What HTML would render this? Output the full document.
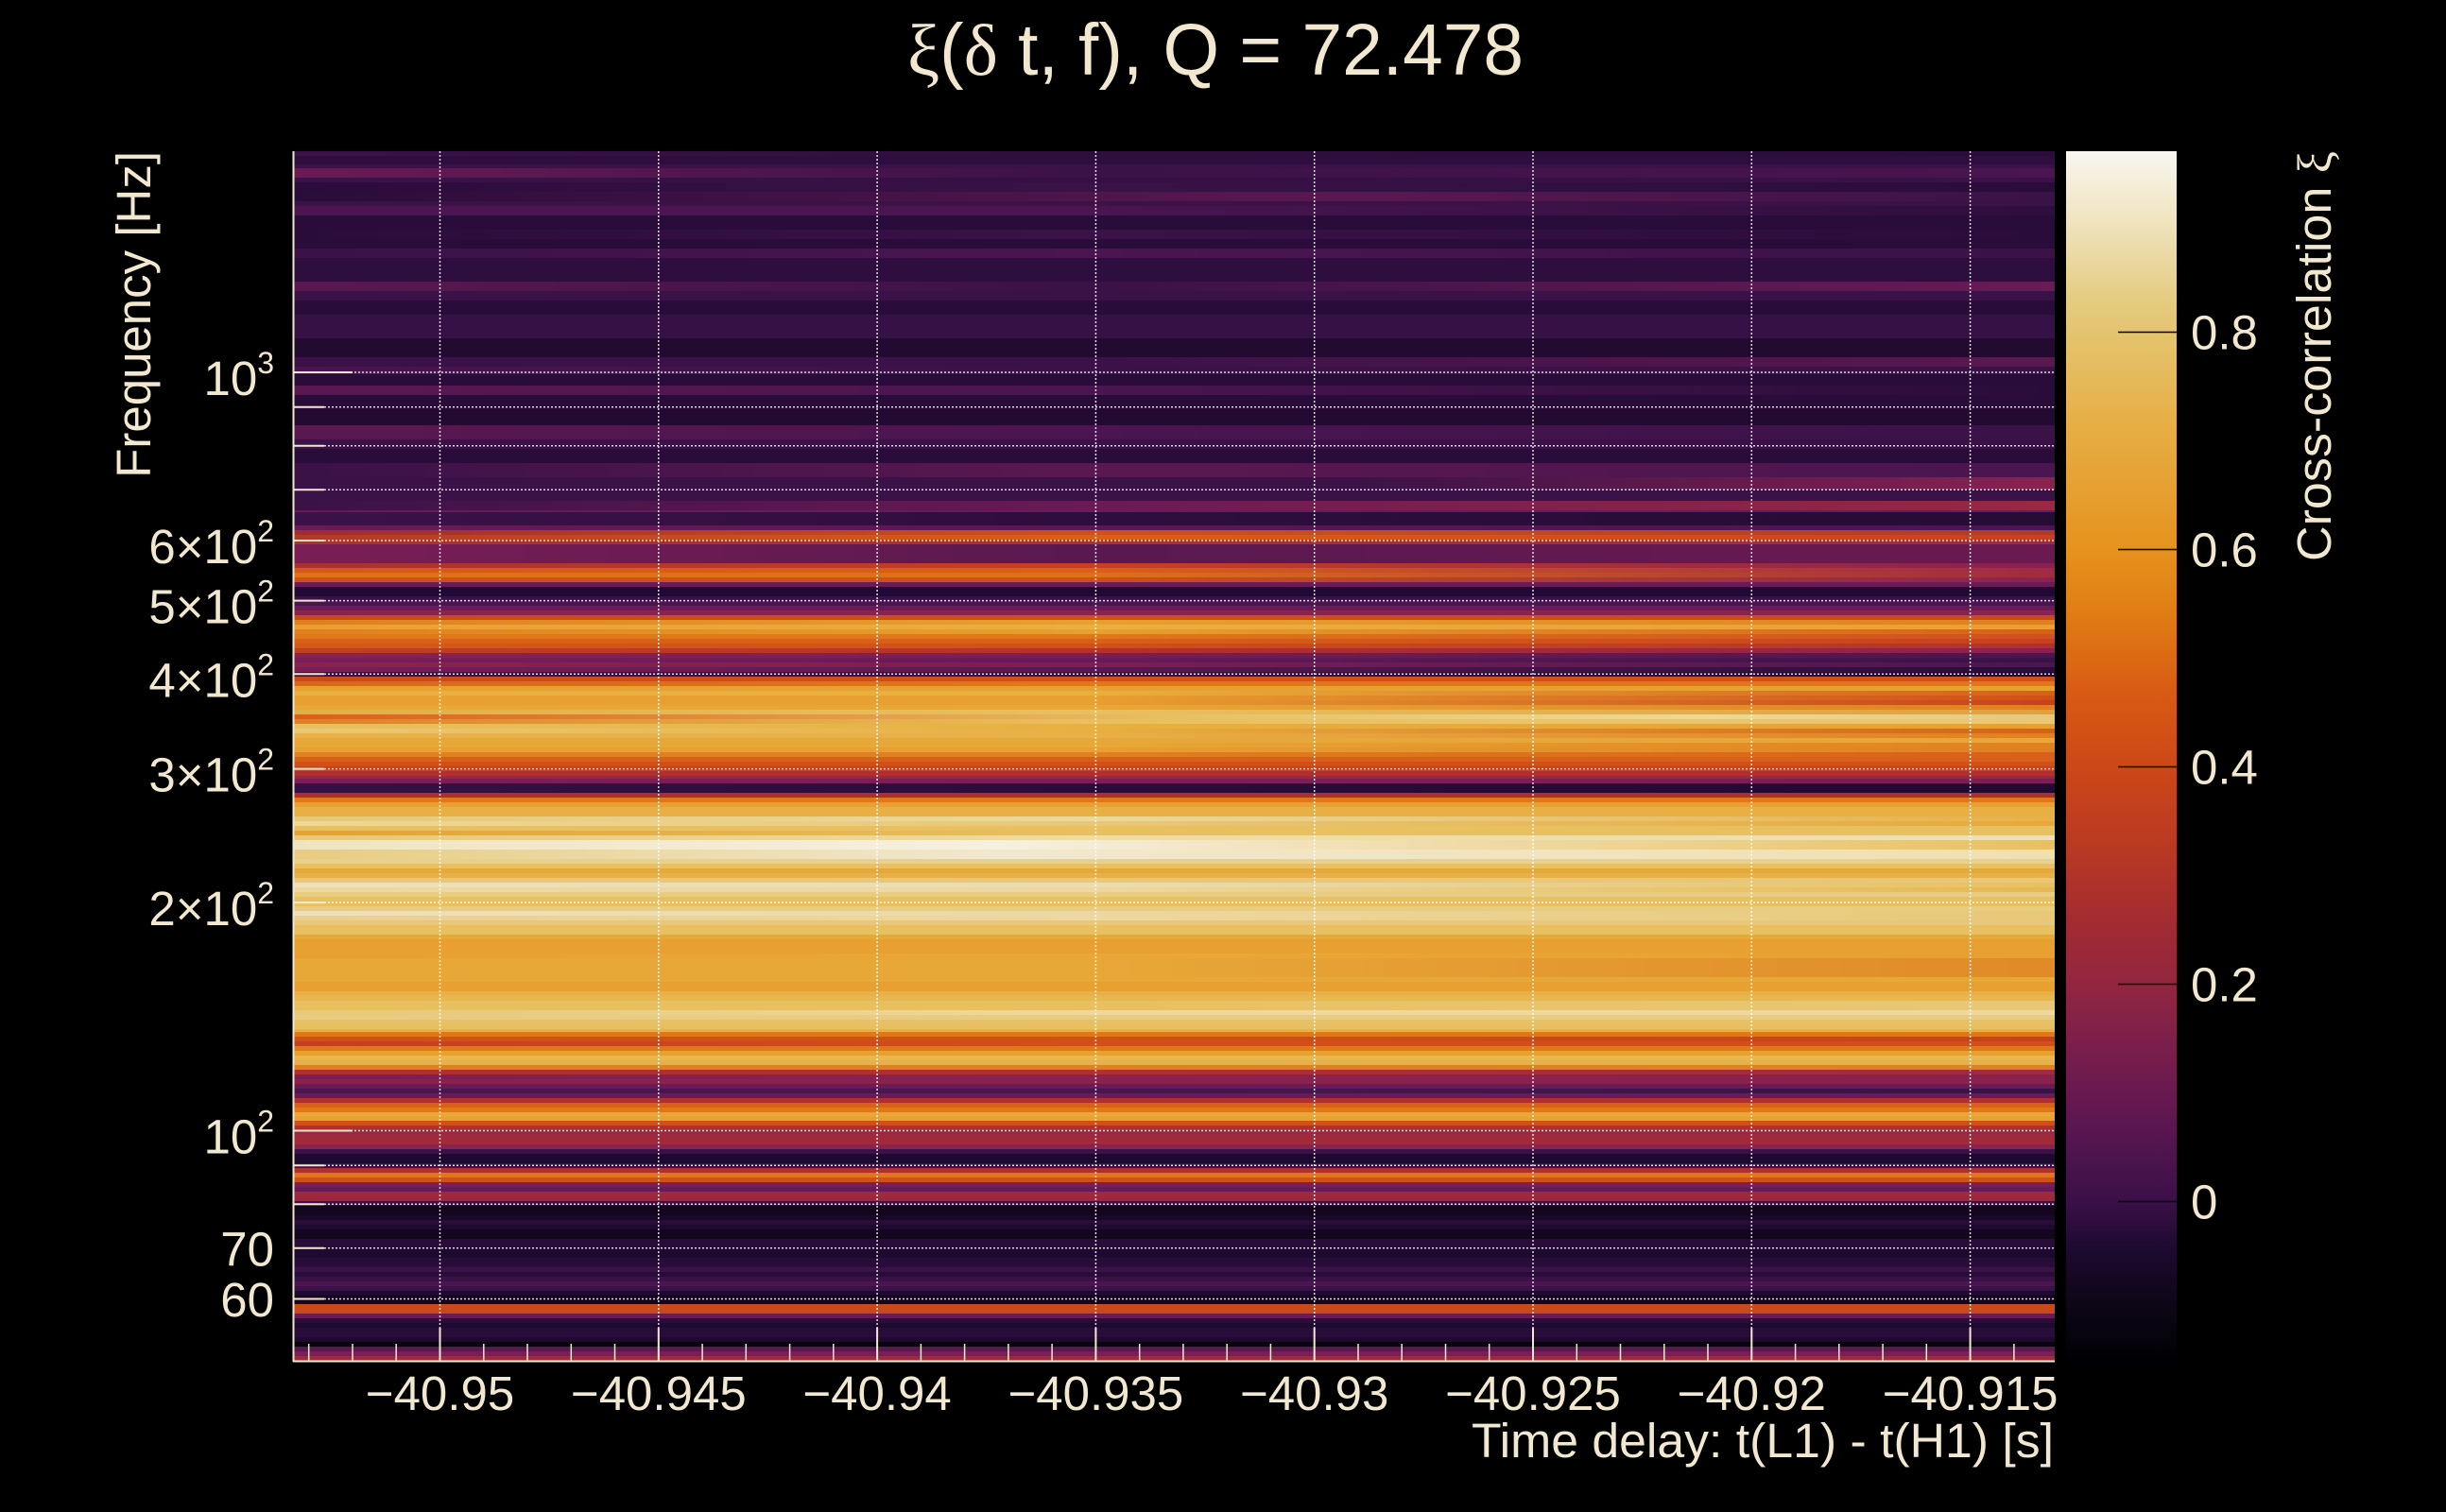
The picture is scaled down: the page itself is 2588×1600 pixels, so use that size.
<!DOCTYPE html>
<html><head><meta charset="utf-8"><style>
html,body{margin:0;padding:0;background:#000;}
body{width:2588px;height:1600px;position:relative;overflow:hidden;}
#hm{position:absolute;left:311px;top:160px;width:1863px;height:1280px;background:#2a0c3a;overflow:hidden;}
#hm div{position:absolute;left:0;width:1863px;}
svg{position:absolute;left:0;top:0;}
text{font-family:"Liberation Sans",sans-serif;fill:#f2e8cf;}
.g{font-family:"Liberation Serif",serif;}
</style></head><body>
<div id="hm">
<div style="top:0;height:5px;background:linear-gradient(90deg,#3a1248,#2e0e3e 45%,#2a0c3a)"></div>
<div style="top:5px;height:9px;background:#2e0e3e"></div>
<div style="top:14px;height:4px;background:#3a1248"></div>
<div style="top:18px;height:10px;background:linear-gradient(90deg,#6a1a55,#3a1248 45%,#4a1550)"></div>
<div style="top:28px;height:5px;background:linear-gradient(90deg,#3a1248,#341044 45%,#3a1248)"></div>
<div style="top:33px;height:10px;background:linear-gradient(90deg,#2a0c3a,#3a1248 45%,#2a0c3a)"></div>
<div style="top:43px;height:10px;background:linear-gradient(90deg,#2a0c3a,#5a1850 60%,#3a1248)"></div>
<div style="top:53px;height:5px;background:#3a1248"></div>
<div style="top:58px;height:10px;background:linear-gradient(90deg,#4a1550,#4a1550 45%,#2e0e3e)"></div>
<div style="top:68px;height:15px;background:#2a0c3a"></div>
<div style="top:83px;height:10px;background:linear-gradient(90deg,#2a0c3a,#3a1248 45%,#2a0c3a)"></div>
<div style="top:93px;height:10px;background:#2a0c3a"></div>
<div style="top:103px;height:10px;background:linear-gradient(90deg,#3a1248,#4a1550 45%,#3a1248)"></div>
<div style="top:113px;height:25px;background:#2e0e3e"></div>
<div style="top:138px;height:10px;background:linear-gradient(90deg,#5a1850,#3a1248 45%,#6a1a55)"></div>
<div style="top:148px;height:10px;background:#3a1248"></div>
<div style="top:158px;height:15px;background:#2a0c3a"></div>
<div style="top:173px;height:25px;background:#361146"></div>
<div style="top:198px;height:20px;background:#220a30"></div>
<div style="top:218px;height:10px;background:linear-gradient(90deg,#3a1248,#3a1248 45%,#5a1850)"></div>
<div style="top:228px;height:8px;background:linear-gradient(90deg,#4a1550,#3a1248 45%,#3a1248)"></div>
<div style="top:236px;height:12px;background:#2a0c3a"></div>
<div style="top:248px;height:10px;background:linear-gradient(90deg,#5a1850,#4a1550 45%,#2a0c3a)"></div>
<div style="top:258px;height:15px;background:#2a0c3a"></div>
<div style="top:273px;height:17px;background:#220a30"></div>
<div style="top:290px;height:15px;background:linear-gradient(90deg,#5a1850,#4a1550 45%,#3a1248)"></div>
<div style="top:305px;height:10px;background:#3a1248"></div>
<div style="top:315px;height:15px;background:#2a0c3a"></div>
<div style="top:330px;height:15px;background:linear-gradient(90deg,#3a1248,#5a1850 45%,#4a1550)"></div>
<div style="top:345px;height:13px;background:linear-gradient(90deg,#3a1248,#3a1248 60%,#8a2250)"></div>
<div style="top:358px;height:12px;background:#3a1248"></div>
<div style="top:370px;height:10px;background:linear-gradient(90deg,#3a1248,#6a1a55 45%,#9a2840)"></div>
<div style="top:380px;height:2px;background:#6a1a5a"></div>
<div style="top:382px;height:14px;background:linear-gradient(90deg,#3a1248,#2e0e3e 45%,#250c35)"></div>
<div style="top:396px;height:5px;background:linear-gradient(90deg,#6a1a55,#5a1850 45%,#4a1550)"></div>
<div style="top:401px;height:5px;background:linear-gradient(90deg,#a02a30,#d0501a 45%,#b03a2a)"></div>
<div style="top:406px;height:5px;background:linear-gradient(90deg,#b03a28,#d86018 45%,#c84020)"></div>
<div style="top:411px;height:5px;background:linear-gradient(90deg,#b0302a,#b03028 45%,#a02a40)"></div>
<div style="top:416px;height:20px;background:linear-gradient(90deg,#7a1e55,#5a1850 45%,#6a1a50)"></div>
<div style="top:436px;height:5px;background:linear-gradient(90deg,#a83030,#c84020 45%,#8a2050)"></div>
<div style="top:441px;height:5px;background:linear-gradient(90deg,#d55818,#d86018 45%,#a02a45)"></div>
<div style="top:446px;height:5px;background:linear-gradient(90deg,#e07018,#e07018 45%,#a02a40)"></div>
<div style="top:451px;height:5px;background:linear-gradient(90deg,#d05018,#d05018 45%,#8a2250)"></div>
<div style="top:456px;height:5px;background:#6a1a55"></div>
<div style="top:461px;height:10px;background:#200a35"></div>
<div style="top:471px;height:5px;background:#3a1248"></div>
<div style="top:476px;height:5px;background:#4a1550"></div>
<div style="top:481px;height:5px;background:#6a1a55"></div>
<div style="top:486px;height:5px;background:#8a2250"></div>
<div style="top:491px;height:5px;background:linear-gradient(90deg,#c84a1a,#d05018 45%,#c84a1a)"></div>
<div style="top:496px;height:5px;background:linear-gradient(90deg,#e08020,#e8a030 45%,#e08020)"></div>
<div style="top:501px;height:5px;background:linear-gradient(90deg,#e8a030,#e8b040 45%,#e8a030)"></div>
<div style="top:506px;height:5px;background:linear-gradient(90deg,#e08020,#e8a030 45%,#d86018)"></div>
<div style="top:511px;height:5px;background:linear-gradient(90deg,#e07818,#e07818 45%,#d05020)"></div>
<div style="top:516px;height:5px;background:linear-gradient(90deg,#d86018,#d86018 45%,#c84020)"></div>
<div style="top:521px;height:5px;background:linear-gradient(90deg,#d05a18,#d05018 45%,#b03030)"></div>
<div style="top:526px;height:5px;background:linear-gradient(90deg,#c04020,#b83028 45%,#8a2050)"></div>
<div style="top:531px;height:5px;background:linear-gradient(90deg,#8a2250,#7a1e55 45%,#4a1550)"></div>
<div style="top:536px;height:5px;background:linear-gradient(90deg,#7a1e55,#6a1a55 45%,#3a1248)"></div>
<div style="top:541px;height:5px;background:linear-gradient(90deg,#8a2250,#7a1e55 45%,#4a1550)"></div>
<div style="top:546px;height:5px;background:linear-gradient(90deg,#7a1e55,#5a1850 45%,#2a0c3a)"></div>
<div style="top:551px;height:5px;background:linear-gradient(90deg,#3a1248,#3a1248 45%,#200a35)"></div>
<div style="top:556px;height:5px;background:linear-gradient(90deg,#c84a1a,#d05018 45%,#d05018)"></div>
<div style="top:561px;height:5px;background:linear-gradient(90deg,#d86818,#e07818 45%,#e07818)"></div>
<div style="top:566px;height:5px;background:#e8a030"></div>
<div style="top:571px;height:5px;background:linear-gradient(90deg,#e8b040,#e8b040 45%,#d86018)"></div>
<div style="top:576px;height:5px;background:linear-gradient(90deg,#e8a030,#e8a030 45%,#d05018)"></div>
<div style="top:581px;height:5px;background:linear-gradient(90deg,#e8a030,#e8a030 45%,#c84020)"></div>
<div style="top:586px;height:5px;background:linear-gradient(90deg,#e8a838,#e8a838 45%,#e08020)"></div>
<div style="top:591px;height:5px;background:linear-gradient(90deg,#e0b048,#e8c060 45%,#e0a040)"></div>
<div style="top:596px;height:5px;background:linear-gradient(90deg,#d86018,#e8c060 50%,#f0d890 80%,#e8c878)"></div>
<div style="top:601px;height:5px;background:linear-gradient(90deg,#e08020,#e8c060 45%,#e8c878)"></div>
<div style="top:606px;height:5px;background:linear-gradient(90deg,#e8c060,#e8b040 45%,#e8a030)"></div>
<div style="top:611px;height:5px;background:linear-gradient(90deg,#e8c878,#e8b040 45%,#d86018)"></div>
<div style="top:616px;height:5px;background:linear-gradient(90deg,#e8b048,#e8b048 45%,#e08020)"></div>
<div style="top:621px;height:5px;background:#e8a838"></div>
<div style="top:626px;height:5px;background:linear-gradient(90deg,#e8a838,#e8a838 45%,#e08020)"></div>
<div style="top:631px;height:5px;background:linear-gradient(90deg,#e8a030,#e8a030 45%,#e08020)"></div>
<div style="top:636px;height:5px;background:linear-gradient(90deg,#e08020,#e08020 45%,#d86018)"></div>
<div style="top:641px;height:5px;background:#d86018"></div>
<div style="top:646px;height:5px;background:#d05018"></div>
<div style="top:651px;height:5px;background:#c84020"></div>
<div style="top:656px;height:5px;background:#b03030"></div>
<div style="top:661px;height:3px;background:#9a2840"></div>
<div style="top:664px;height:5px;background:#7a1e55"></div>
<div style="top:669px;height:10px;background:linear-gradient(90deg,#361044,#2a0c3a 45%,#220a30)"></div>
<div style="top:679px;height:5px;background:#a83030"></div>
<div style="top:684px;height:5px;background:#e07818"></div>
<div style="top:689px;height:5px;background:#e8a030"></div>
<div style="top:694px;height:10px;background:#e8b044"></div>
<div style="top:704px;height:5px;background:linear-gradient(90deg,#e8c878,#ecd898 45%,#e8b048)"></div>
<div style="top:709px;height:5px;background:linear-gradient(90deg,#ecd898,#e8c878 45%,#e8a838)"></div>
<div style="top:714px;height:5px;background:#e8c060"></div>
<div style="top:719px;height:5px;background:linear-gradient(90deg,#e8a030,#e8c060 45%,#e8c060)"></div>
<div style="top:724px;height:5px;background:linear-gradient(90deg,#e8c878,#f0dca0 45%,#f0e0b0)"></div>
<div style="top:729px;height:10px;background:linear-gradient(90deg,#f0e4c0,#f6f0e0 40%,#e8c060)"></div>
<div style="top:739px;height:5px;background:linear-gradient(90deg,#e8cc80,#f2e8cc 40%,#f0e0b0)"></div>
<div style="top:744px;height:5px;background:linear-gradient(90deg,#e8cc80,#f0e8d0 40%,#f0e0b0)"></div>
<div style="top:749px;height:5px;background:#e8d090"></div>
<div style="top:754px;height:5px;background:#e8c060"></div>
<div style="top:759px;height:5px;background:#e8a838"></div>
<div style="top:764px;height:5px;background:#e8b048"></div>
<div style="top:769px;height:5px;background:#e8c878"></div>
<div style="top:774px;height:5px;background:linear-gradient(90deg,#f0e0b8,#ecdcb0 45%,#e8c060)"></div>
<div style="top:779px;height:5px;background:linear-gradient(90deg,#ecd8a0,#ecd8a0 45%,#e8b850)"></div>
<div style="top:784px;height:5px;background:#e8cc80"></div>
<div style="top:789px;height:10px;background:#e8c060"></div>
<div style="top:799px;height:5px;background:#e8cc80"></div>
<div style="top:804px;height:5px;background:linear-gradient(90deg,#f0e0b8,#ecd8a0 45%,#e8c878)"></div>
<div style="top:809px;height:5px;background:linear-gradient(90deg,#e8d090,#ecd8a0 45%,#e8c878)"></div>
<div style="top:814px;height:5px;background:#e8c878"></div>
<div style="top:819px;height:10px;background:#e8c060"></div>
<div style="top:829px;height:5px;background:#e8a838"></div>
<div style="top:834px;height:15px;background:#e8a030"></div>
<div style="top:849px;height:5px;background:linear-gradient(90deg,#e8a030,#e8a838 45%,#e8a030)"></div>
<div style="top:854px;height:20px;background:linear-gradient(90deg,#e8a838,#e8a838 45%,#e08a28)"></div>
<div style="top:874px;height:5px;background:#e8a838"></div>
<div style="top:879px;height:10px;background:#e8a030"></div>
<div style="top:889px;height:5px;background:#e8b048"></div>
<div style="top:894px;height:5px;background:#e8b850"></div>
<div style="top:899px;height:10px;background:linear-gradient(90deg,#e8c060,#e8c060 45%,#e8c878)"></div>
<div style="top:909px;height:5px;background:linear-gradient(90deg,#e8c878,#ecd8a0 45%,#ecd8a0)"></div>
<div style="top:914px;height:5px;background:#e8cc80"></div>
<div style="top:919px;height:5px;background:#e8c068"></div>
<div style="top:924px;height:5px;background:#e8c060"></div>
<div style="top:929px;height:3px;background:#e8b048"></div>
<div style="top:932px;height:5px;background:#e07818"></div>
<div style="top:937px;height:5px;background:linear-gradient(90deg,#d05018,#d05018 45%,#c84020)"></div>
<div style="top:942px;height:5px;background:linear-gradient(90deg,#c04020,#d05018 45%,#d05018)"></div>
<div style="top:947px;height:5px;background:#e07818"></div>
<div style="top:952px;height:5px;background:#e8a030"></div>
<div style="top:957px;height:5px;background:#e8b850"></div>
<div style="top:962px;height:5px;background:#e8b048"></div>
<div style="top:967px;height:5px;background:#e08020"></div>
<div style="top:972px;height:5px;background:linear-gradient(90deg,#b03030,#b03030 45%,#a02a40)"></div>
<div style="top:977px;height:5px;background:linear-gradient(90deg,#7a1e55,#8a2250 45%,#8a2250)"></div>
<div style="top:982px;height:5px;background:#8a2250"></div>
<div style="top:987px;height:5px;background:#6a1a55"></div>
<div style="top:992px;height:5px;background:linear-gradient(90deg,#4a1550,#4a1550 45%,#3a1248)"></div>
<div style="top:997px;height:5px;background:#6a1a55"></div>
<div style="top:1002px;height:5px;background:#b03030"></div>
<div style="top:1007px;height:5px;background:#d86018"></div>
<div style="top:1012px;height:5px;background:#e07818"></div>
<div style="top:1017px;height:5px;background:#e8a838"></div>
<div style="top:1022px;height:4px;background:#e8a030"></div>
<div style="top:1026px;height:5px;background:#d05018"></div>
<div style="top:1031px;height:5px;background:#b03030"></div>
<div style="top:1036px;height:5px;background:#9a2840"></div>
<div style="top:1041px;height:10px;background:#a02a3a"></div>
<div style="top:1051px;height:5px;background:#8a2250"></div>
<div style="top:1056px;height:5px;background:#3a1248"></div>
<div style="top:1061px;height:10px;background:#1e0a30"></div>
<div style="top:1071px;height:5px;background:#3a1248"></div>
<div style="top:1076px;height:5px;background:#b03030"></div>
<div style="top:1081px;height:5px;background:#e07818"></div>
<div style="top:1086px;height:5px;background:#d05018"></div>
<div style="top:1091px;height:5px;background:#7a1e55"></div>
<div style="top:1096px;height:5px;background:#6a1a55"></div>
<div style="top:1101px;height:5px;background:#a02a3a"></div>
<div style="top:1106px;height:5px;background:#9a2840"></div>
<div style="top:1111px;height:5px;background:#3a1248"></div>
<div style="top:1116px;height:10px;background:#14061e"></div>
<div style="top:1126px;height:5px;background:#1a0828"></div>
<div style="top:1131px;height:5px;background:#2a0c3a"></div>
<div style="top:1136px;height:5px;background:#1e0a30"></div>
<div style="top:1141px;height:10px;background:#14061e"></div>
<div style="top:1151px;height:10px;background:#2a0c3a"></div>
<div style="top:1161px;height:10px;background:#1e0a30"></div>
<div style="top:1171px;height:10px;background:#2a0c3a"></div>
<div style="top:1181px;height:5px;background:#3a1248"></div>
<div style="top:1186px;height:5px;background:#2a0c3a"></div>
<div style="top:1191px;height:5px;background:#3a1248"></div>
<div style="top:1196px;height:5px;background:#4a1550"></div>
<div style="top:1201px;height:5px;background:#3a1248"></div>
<div style="top:1206px;height:5px;background:#1e0a30"></div>
<div style="top:1211px;height:9px;background:#14061e"></div>
<div style="top:1220px;height:10px;background:#c84a1a"></div>
<div style="top:1230px;height:5px;background:#6a1a55"></div>
<div style="top:1235px;height:5px;background:#2a0c3a"></div>
<div style="top:1240px;height:5px;background:#1e0a30"></div>
<div style="top:1245px;height:10px;background:#2a0c3a"></div>
<div style="top:1255px;height:5px;background:#1e0a30"></div>
<div style="top:1260px;height:5px;background:#0a0410"></div>
<div style="top:1265px;height:5px;background:#5a1850"></div>
<div style="top:1270px;height:5px;background:#7a1e55"></div>
<div style="top:1275px;height:5px;background:#a02a3a"></div>
</div>
<svg width="2588" height="1600" viewBox="0 0 2588 1600" xmlns="http://www.w3.org/2000/svg">
<defs>
<linearGradient id="cb" x1="0" y1="0" x2="0" y2="1">
<stop offset="0" stop-color="#f8f6f0"/>
<stop offset="0.057" stop-color="#f0e4c0"/>
<stop offset="0.1226" stop-color="#e4cc80"/>
<stop offset="0.149" stop-color="#e4c470"/>
<stop offset="0.220" stop-color="#e6b048"/>
<stop offset="0.3287" stop-color="#e6921e"/>
<stop offset="0.383" stop-color="#e07c14"/>
<stop offset="0.449" stop-color="#d85a14"/>
<stop offset="0.509" stop-color="#cc4818"/>
<stop offset="0.579" stop-color="#b83824"/>
<stop offset="0.644" stop-color="#a02a34"/>
<stop offset="0.6885" stop-color="#922640"/>
<stop offset="0.7416" stop-color="#7a1e4c"/>
<stop offset="0.807" stop-color="#5a1650"/>
<stop offset="0.868" stop-color="#3a1048"/>
<stop offset="0.9055" stop-color="#1e0a30"/>
<stop offset="0.957" stop-color="#0c0614"/>
<stop offset="1" stop-color="#000004"/>
</linearGradient>
</defs>
<g stroke="#ffffff" stroke-width="1.5" stroke-dasharray="2 2" opacity="0.85">
<line x1="465.5" y1="160" x2="465.5" y2="1440"/>
<line x1="696.8" y1="160" x2="696.8" y2="1440"/>
<line x1="928.1" y1="160" x2="928.1" y2="1440"/>
<line x1="1159.4" y1="160" x2="1159.4" y2="1440"/>
<line x1="1390.7" y1="160" x2="1390.7" y2="1440"/>
<line x1="1622" y1="160" x2="1622" y2="1440"/>
<line x1="1853.3" y1="160" x2="1853.3" y2="1440"/>
<line x1="2084.6" y1="160" x2="2084.6" y2="1440"/>
<line x1="311" y1="394" x2="2174" y2="394"/>
<line x1="311" y1="430.7" x2="2174" y2="430.7"/>
<line x1="311" y1="471.8" x2="2174" y2="471.8"/>
<line x1="311" y1="518.3" x2="2174" y2="518.3"/>
<line x1="311" y1="572" x2="2174" y2="572"/>
<line x1="311" y1="635.6" x2="2174" y2="635.6"/>
<line x1="311" y1="713.3" x2="2174" y2="713.3"/>
<line x1="311" y1="813.6" x2="2174" y2="813.6"/>
<line x1="311" y1="955" x2="2174" y2="955"/>
<line x1="311" y1="1196.5" x2="2174" y2="1196.5"/>
<line x1="311" y1="1233.2" x2="2174" y2="1233.2"/>
<line x1="311" y1="1274.3" x2="2174" y2="1274.3"/>
<line x1="311" y1="1320.8" x2="2174" y2="1320.8"/>
<line x1="311" y1="1374.5" x2="2174" y2="1374.5"/>
</g>
<g stroke="#f2e8cf" stroke-width="2">
<line x1="310.5" y1="160" x2="310.5" y2="1441"/>
<line x1="310" y1="1440.5" x2="2174" y2="1440.5"/>
<line x1="311" y1="394" x2="373" y2="394"/>
<line x1="311" y1="1196.5" x2="373" y2="1196.5"/>
<line x1="311" y1="430.7" x2="343" y2="430.7"/>
<line x1="311" y1="471.8" x2="343" y2="471.8"/>
<line x1="311" y1="518.3" x2="343" y2="518.3"/>
<line x1="311" y1="572" x2="343" y2="572"/>
<line x1="311" y1="635.6" x2="343" y2="635.6"/>
<line x1="311" y1="713.3" x2="343" y2="713.3"/>
<line x1="311" y1="813.6" x2="343" y2="813.6"/>
<line x1="311" y1="955" x2="343" y2="955"/>
<line x1="311" y1="1233.2" x2="343" y2="1233.2"/>
<line x1="311" y1="1274.3" x2="343" y2="1274.3"/>
<line x1="311" y1="1320.8" x2="343" y2="1320.8"/>
<line x1="311" y1="1374.5" x2="343" y2="1374.5"/>
<line x1="465.5" y1="1405" x2="465.5" y2="1440"/>
<line x1="696.8" y1="1405" x2="696.8" y2="1440"/>
<line x1="928.1" y1="1405" x2="928.1" y2="1440"/>
<line x1="1159.4" y1="1405" x2="1159.4" y2="1440"/>
<line x1="1390.7" y1="1405" x2="1390.7" y2="1440"/>
<line x1="1622" y1="1405" x2="1622" y2="1440"/>
<line x1="1853.3" y1="1405" x2="1853.3" y2="1440"/>
<line x1="2084.6" y1="1405" x2="2084.6" y2="1440"/>
</g>
<g stroke="#f2e8cf" stroke-width="1.5">
<line x1="326.7" y1="1422" x2="326.7" y2="1440"/>
<line x1="373" y1="1422" x2="373" y2="1440"/>
<line x1="419.2" y1="1422" x2="419.2" y2="1440"/>
<line x1="511.8" y1="1422" x2="511.8" y2="1440"/>
<line x1="558" y1="1422" x2="558" y2="1440"/>
<line x1="604.3" y1="1422" x2="604.3" y2="1440"/>
<line x1="650.5" y1="1422" x2="650.5" y2="1440"/>
<line x1="743.1" y1="1422" x2="743.1" y2="1440"/>
<line x1="789.3" y1="1422" x2="789.3" y2="1440"/>
<line x1="835.6" y1="1422" x2="835.6" y2="1440"/>
<line x1="881.8" y1="1422" x2="881.8" y2="1440"/>
<line x1="974.4" y1="1422" x2="974.4" y2="1440"/>
<line x1="1020.6" y1="1422" x2="1020.6" y2="1440"/>
<line x1="1066.9" y1="1422" x2="1066.9" y2="1440"/>
<line x1="1113.1" y1="1422" x2="1113.1" y2="1440"/>
<line x1="1205.7" y1="1422" x2="1205.7" y2="1440"/>
<line x1="1251.9" y1="1422" x2="1251.9" y2="1440"/>
<line x1="1298.2" y1="1422" x2="1298.2" y2="1440"/>
<line x1="1344.4" y1="1422" x2="1344.4" y2="1440"/>
<line x1="1437" y1="1422" x2="1437" y2="1440"/>
<line x1="1483.2" y1="1422" x2="1483.2" y2="1440"/>
<line x1="1529.5" y1="1422" x2="1529.5" y2="1440"/>
<line x1="1575.7" y1="1422" x2="1575.7" y2="1440"/>
<line x1="1668.3" y1="1422" x2="1668.3" y2="1440"/>
<line x1="1714.5" y1="1422" x2="1714.5" y2="1440"/>
<line x1="1760.8" y1="1422" x2="1760.8" y2="1440"/>
<line x1="1807" y1="1422" x2="1807" y2="1440"/>
<line x1="1899.6" y1="1422" x2="1899.6" y2="1440"/>
<line x1="1945.8" y1="1422" x2="1945.8" y2="1440"/>
<line x1="1992.1" y1="1422" x2="1992.1" y2="1440"/>
<line x1="2038.3" y1="1422" x2="2038.3" y2="1440"/>
<line x1="2130.9" y1="1422" x2="2130.9" y2="1440"/>
</g>
<rect x="2186" y="160" width="117" height="1281" fill="url(#cb)"/>
<g stroke="#000" stroke-width="1.5">
<line x1="2241" y1="351.5" x2="2303" y2="351.5"/>
<line x1="2241" y1="581.5" x2="2303" y2="581.5"/>
<line x1="2241" y1="811.5" x2="2303" y2="811.5"/>
<line x1="2241" y1="1041.5" x2="2303" y2="1041.5"/>
<line x1="2241" y1="1271.5" x2="2303" y2="1271.5"/>
</g>
<g font-size="51">
<text x="2318" y="369.5">0.8</text>
<text x="2318" y="599.5">0.6</text>
<text x="2318" y="829.5">0.4</text>
<text x="2318" y="1059.5">0.2</text>
<text x="2318" y="1289.5">0</text>
</g>
<text x="1286" y="79" font-size="77" text-anchor="middle" textLength="652" lengthAdjust="spacingAndGlyphs"><tspan class="g">ξ</tspan>(<tspan class="g">δ</tspan> t, f), Q = 72.478</text>
<g font-size="51" text-anchor="middle">
<text x="465.5" y="1492">−40.95</text>
<text x="696.8" y="1492">−40.945</text>
<text x="928.1" y="1492">−40.94</text>
<text x="1159.4" y="1492">−40.935</text>
<text x="1390.7" y="1492">−40.93</text>
<text x="1622" y="1492">−40.925</text>
<text x="1853.3" y="1492">−40.92</text>
<text x="2084.6" y="1492">−40.915</text>
</g>
<text x="2173" y="1542" font-size="51" text-anchor="end" textLength="616" lengthAdjust="spacingAndGlyphs">Time delay: t(L1) - t(H1) [s]</text>
<g font-size="51" text-anchor="end">
<text x="290" y="418">10<tspan font-size="32" dy="-23">3</tspan></text>
<text x="290" y="596">6×10<tspan font-size="32" dy="-23">2</tspan></text>
<text x="290" y="659.6">5×10<tspan font-size="32" dy="-23">2</tspan></text>
<text x="290" y="737.3">4×10<tspan font-size="32" dy="-23">2</tspan></text>
<text x="290" y="837.6">3×10<tspan font-size="32" dy="-23">2</tspan></text>
<text x="290" y="979">2×10<tspan font-size="32" dy="-23">2</tspan></text>
<text x="290" y="1220.5">10<tspan font-size="32" dy="-23">2</tspan></text>
<text x="290" y="1339.3">70</text>
<text x="290" y="1393">60</text>
</g>
<text transform="translate(159,160) rotate(-90)" font-size="51" text-anchor="end">Frequency [Hz]</text>
<text transform="translate(2466,160) rotate(-90)" font-size="51" text-anchor="end" textLength="434" lengthAdjust="spacingAndGlyphs">Cross-correlation <tspan class="g">ξ</tspan></text>
</svg>
</body></html>
